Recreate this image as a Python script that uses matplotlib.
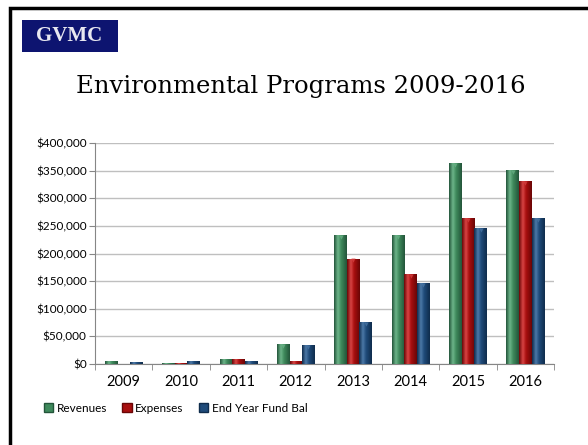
import matplotlib
matplotlib.use('Agg')
import matplotlib.pyplot as plt
import matplotlib.patches as mpatches
from matplotlib.colors import LinearSegmentedColormap
from matplotlib.ticker import FuncFormatter
import numpy as np

years = ['2009', '2010', '2011', '2012', '2013', '2014', '2015', '2016']
revenues = [4000, 1500, 8500, 34500, 232000, 233000, 363000, 350000]
expenses = [0, 1000, 8500, 5000, 190000, 162000, 263000, 330000]
fund_bal = [3500, 4000, 4500, 33000, 75000, 146000, 245000, 264000]
series_names = ['Revenues', 'Expenses', 'End Year Fund Bal']

# base, dark edge, highlight
palette = [
    ('#3F8A5C', '#23553A', '#6DB58A'),
    ('#A80F0F', '#6A0606', '#D84444'),
    ('#1F4B7A', '#0F2C4C', '#4C79A8'),
]

fig = plt.figure(figsize=(5.88, 4.45), dpi=100)

# slide frame
fig.add_artist(mpatches.Rectangle((9.5 / 588, -0.1), 1.2, 1.1 - 8.5 / 445,
                                  transform=fig.transFigure, fill=False,
                                  edgecolor='black', linewidth=2.5))

# logo
fig.add_artist(mpatches.Rectangle((22 / 588, 1 - 52 / 445), 96 / 588, 32 / 445,
                                  transform=fig.transFigure, facecolor='#0D1470',
                                  edgecolor='none'))
fig.text(69 / 588, 1 - 36 / 445, 'GVMC', color='#E8E8F0', fontsize=15,
         fontweight='bold', family='Liberation Serif', ha='center', va='center')

fig.text(301 / 588, 1 - 86 / 445, 'Environmental Programs 2009-2016',
         fontsize=17.5, family='DejaVu Serif', ha='center', va='center')

ax = fig.add_axes([95 / 588, 1 - 364 / 445, 459 / 588, 221 / 445])

x = np.arange(len(years))
w = 0.22
for i, (vals, name) in enumerate(zip([revenues, expenses, fund_bal], series_names)):
    base, dark, light = palette[i]
    cmap = LinearSegmentedColormap.from_list(
        f'c{i}', [(0, dark), (0.3, light), (0.55, base), (1, dark)])
    grad = np.linspace(0, 1, 64).reshape(1, -1)
    xs = x + (i - 1) * w
    for xc, v in zip(xs, vals):
        if v <= 0:
            continue
        ax.imshow(grad, extent=[xc - w / 2, xc + w / 2, 0, v], aspect='auto',
                  cmap=cmap, zorder=3, interpolation='bilinear')
        if v > 20000:
            ax.plot(xc, v - 2500, marker='v', markersize=3, color=light,
                    markeredgewidth=0, alpha=0.7, zorder=4)

ax.set_xlim(-0.5, len(years) - 0.5)
ax.set_ylim(0, 400000)
ax.set_yticks(np.arange(0, 400001, 50000))
ax.yaxis.set_major_formatter(FuncFormatter(lambda v, p: f'${v:,.0f}'))
ax.set_xticks(x)
ax.set_xticklabels(years)
ax.set_xticks(np.arange(-0.5, len(years), 1), minor=True)
ax.tick_params(axis='x', which='major', length=0, pad=8, labelsize=10.5)
ax.tick_params(axis='x', which='minor', length=4, color='#868686')
ax.tick_params(axis='y', length=4, color='#868686', labelsize=8.5, pad=2)
for lab in ax.get_xticklabels() + ax.get_yticklabels():
    lab.set_family('Lato')
ax.grid(axis='y', color='#BFBFBF', linewidth=1, zorder=0)
ax.set_axisbelow(True)
for s in ['top', 'right']:
    ax.spines[s].set_visible(False)
ax.spines['left'].set_color('#868686')
ax.spines['bottom'].set_color('#868686')

handles = [mpatches.Patch(facecolor=p[0], edgecolor=p[1]) for p in palette]
fig.legend(handles, series_names, loc='center left', bbox_to_anchor=(33 / 588, 1 - 408 / 445),
           ncol=3, frameon=False, handlelength=0.8, handleheight=0.8,
           handletextpad=0.3, columnspacing=1.3, prop={'family': 'Lato', 'size': 8.5})

fig.savefig('out.png', dpi=100)
